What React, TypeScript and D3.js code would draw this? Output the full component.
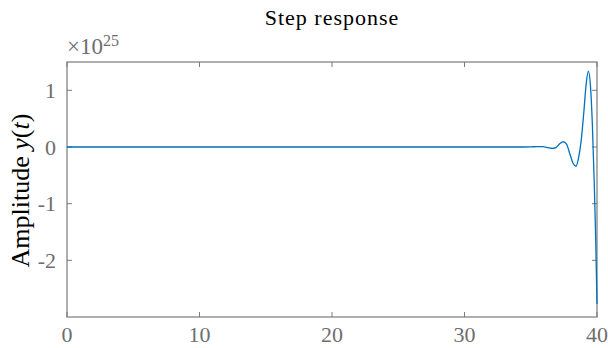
import * as d3 from 'd3';

// step response samples (amplitude in raw units, shown as x10^25)
const time = [
  0, 5, 10, 15, 20, 25, 30, 33, 34.5, 35.0, 35.5, 35.9, 36.3, 36.6, 36.9, 37.2,
  37.45, 37.7, 37.95, 38.2, 38.42, 38.6, 38.8, 39.0, 39.2, 39.35, 39.5, 39.65,
  39.8, 39.9, 40.0,
];
const amplitude = [
  0, 0, 0, 0, 0, 0, 0, 0, 0, 0.002e25, 0.008e25, 0.006e25, -0.01e25, -0.025e25,
  -0.01e25, 0.06e25, 0.093e25, 0.05e25, -0.12e25, -0.29e25, -0.34e25, -0.2e25,
  0.1e25, 0.6e25, 1.15e25, 1.34e25, 1.1e25, 0.4e25, -0.7e25, -1.6e25, -2.77e25,
];

const xTicks = [0, 10, 20, 30, 40];
const yTicks = [-2, -1, 0, 1];
const exponent = 25;
const title = 'Step response';

const W = 608;
const H = 348;
const margin = { left: 67, right: 11, top: 62, bottom: 31 };
const axisColor = '#7a7a7a';
const labelColor = '#6e6e6e';
const serif = '"Liberation Serif", "DejaVu Serif", serif';

export default function App() {
  const x = d3.scaleLinear().domain([0, 40]).range([margin.left, W - margin.right]);
  const y = d3.scaleLinear().domain([-3, 1.5]).range([H - margin.bottom, margin.top]);
  const scale = Math.pow(10, exponent);

  const pts = time.map((t, i) => [t, amplitude[i] / scale] as [number, number]);
  const line = d3.line<[number, number]>()
    .x(d => x(d[0]))
    .y(d => y(d[1]))
    .curve(d3.curveMonotoneX);

  const [x0, x1] = x.range();
  const [y0, y1] = y.range();
  const tick = 5;

  return (
    <svg width={W} height={H} style={{ position: 'absolute', left: 0, top: 0, background: '#fff' }}>
      <text x={(x0 + x1) / 2} y={25} textAnchor="middle" fontFamily={serif} fontSize={22}
        letterSpacing={1} fill="#000">
        {title}
      </text>

      {/* box */}
      <rect x={x0} y={y1} width={x1 - x0} height={y0 - y1} fill="none" stroke={axisColor} strokeWidth={1.2} />

      {xTicks.map(t => (
        <g key={'x' + t}>
          <line x1={x(t)} x2={x(t)} y1={y0} y2={y0 - tick} stroke={axisColor} />
          <line x1={x(t)} x2={x(t)} y1={y1} y2={y1 + tick} stroke={axisColor} />
          <text x={x(t)} y={y0 + 25} textAnchor="middle" fontFamily={serif} fontSize={22} fill={labelColor}>
            {t}
          </text>
        </g>
      ))}

      {yTicks.map(t => (
        <g key={'y' + t}>
          <line x1={x0} x2={x0 + tick} y1={y(t)} y2={y(t)} stroke={axisColor} />
          <line x1={x1} x2={x1 - tick} y1={y(t)} y2={y(t)} stroke={axisColor} />
          <text x={x0 - 11} y={y(t)} dy="0.35em" textAnchor="end" fontFamily={serif} fontSize={22} fill={labelColor}>
            {t}
          </text>
        </g>
      ))}

      <text x={x0} y={54} fontFamily={serif} fontSize={23} fill={labelColor}>
        ×10<tspan fontSize={16} dy={-8}>{exponent}</tspan>
      </text>

      <text
        transform={`translate(${29}, ${(y0 + y1) / 2 + 1}) rotate(-90)`}
        textAnchor="middle"
        fontFamily={serif}
        fontSize={26}
        fill="#000"
      >
        Amplitude <tspan fontStyle="italic">y</tspan>(<tspan fontStyle="italic">t</tspan>)
      </text>

      <path d={line(pts) || ''} fill="none" stroke="#0072BD" strokeWidth={1.3} />
    </svg>
  );
}
